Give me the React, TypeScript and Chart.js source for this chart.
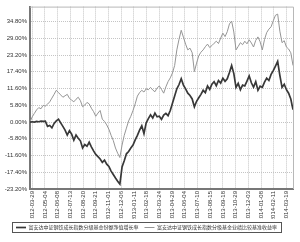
import React, { useEffect, useRef } from "react";
import { Chart, registerables } from "chart.js";

Chart.register(...registerables);

const seriesNames = [
  "富安达中证钢铁成长指数分级基金份额净值增长率",
  "富安达中证钢铁成长指数分级基金业绩比较基准收益率",
];

const tickLabels = [
  "2012-03-29", "2012-05-04", "2012-06-08", "2012-07-13", "2012-08-20",
  "2012-09-21", "2012-11-01", "2012-12-06", "2013-01-11", "2013-02-18",
  "2013-03-24", "2013-04-29", "2013-06-04", "2013-07-10", "2013-08-15",
  "2013-09-18", "2013-10-29", "2013-12-03", "2014-01-08", "2014-02-11",
  "2014-03-19",
];
const xTickStart = 1;
const xTickEvery = 5.8;

const yTickValues = [-23.2, -17.4, -11.6, -5.8, 0, 5.8, 11.6, 17.4, 23.2, 29, 34.8];
const yMin = -23.2;
const yMax = 40;

const fundValues = [
  0, 0.1, 0, 0.2, 0.1, 0.3, 0.2, 0.3, -1.5, -1.2, -2,
  -0.5, 0.4, 1, -0.3, -1.5, -2.8, -4.5, -3, -4.2, -6.3,
  -4.5, -5.6, -6.5, -9, -7.8, -8.4, -7, -8.6, -10, -11.2,
  -12, -12.8, -14, -13.2, -14.6, -15.4, -17, -18.2, -19.4, -20.5,
  -21.5, -15.6, -13.4, -11, -10.2, -9, -8, -6.2, -4.6, -2.8,
  -1.3, -4, -0.3, 1.2, 2.5, 1.4, 3.1, 1.8, 2, 0.9,
  2.4, 3, 2.2, 4, 6.5, 9, 11.5, 13, 15, 12.8,
  11.5, 10, 9.2, 8, 5.3, 7.2, 8.4, 9.6, 11, 10.2,
  12.5, 11.3, 13.1, 14, 12.6, 14.4, 13.5, 15.2, 14.1, 15,
  17.2, 19.6, 16.8, 12, 13.4, 11.2, 12.8, 12.5, 14.2, 16,
  13.6, 12.1, 14, 11, 12.4, 12, 13.8, 15.2, 14.4, 16.5,
  17.8, 19.4, 21, 16.2, 12, 13.1, 11.2, 10, 8, 4.3,
];

const benchValues = [
  0, 1.8, 3, 4.2, 5, 4.6, 5.8, 5.5, 6.2, 7, 8.3,
  9.6, 11, 10.2, 9.4, 8.6, 9.1, 9.6, 8.2, 7.6, 7,
  7.9, 8.6, 7.4, 5.3, 5.9, 6.8, 6.3, 4.8, 3.6, 2,
  3.1, 4, 1, 0.2, -1, -2.5, -4.6, -6.4, -9, -10.8,
  -12.3, -8, -4.6, -2.1, 0.4, 2, 4, 6.3, 9, 10.2,
  11, 10.4, 11.5, 11.2, 12, 11.1, 10.5, 11.8, 12.5, 11.3,
  10, 12.2, 14, 15.3, 17, 19.6, 25, 28.7, 31.8, 29.4,
  27, 25, 25.6, 24, 17.5, 20.4, 23, 24.2, 25, 26.1,
  27, 25.8, 26.5, 27.3, 28, 27.2, 29.1, 30.8, 29.6, 31.3,
  34, 35, 31.2, 25, 26.2, 27.5, 26.8, 28, 27.1, 28.5,
  27.4, 26, 28.3, 29.5, 27.8, 25, 28.6, 31, 32.2, 33,
  35.1, 37, 37.4, 31.5, 27.5, 28.2, 26, 25.3, 24, 19.6,
];

const frameAndLegendBox = {
  id: "frameAndLegendBox",
  afterDraw(chart: any) {
    const { ctx, chartArea } = chart;
    ctx.save();
    ctx.strokeStyle = "#b8b8b8";
    ctx.lineWidth = 1;
    ctx.beginPath();
    ctx.moveTo(chartArea.left, chartArea.top + 0.5);
    ctx.lineTo(chartArea.right + 0.5, chartArea.top + 0.5);
    ctx.lineTo(chartArea.right + 0.5, chartArea.bottom);
    ctx.stroke();
    const boxes = chart.legend?.legendHitBoxes || [];
    if (boxes.length) {
      let l = Infinity, r = -Infinity, t = Infinity, b = -Infinity;
      boxes.forEach((h: any) => {
        l = Math.min(l, h.left);
        r = Math.max(r, h.left + h.width);
        t = Math.min(t, h.top);
        b = Math.max(b, h.top + h.height);
      });
      ctx.strokeStyle = "#555";
      ctx.strokeRect(Math.round(l - 4) + 0.5, Math.round(t - 3) + 0.5, Math.round(r - l + 8), Math.round(b - t + 5));
    }
    ctx.restore();
  },
};

export default function App() {
  const ref = useRef<HTMLCanvasElement>(null);
  useEffect(() => {
    const xs = fundValues.map((_, i) => i);
    const chart = new Chart(ref.current!, {
      type: "line",
      data: {
        datasets: [
          {
            label: seriesNames[0],
            data: xs.map((x) => ({ x, y: fundValues[x] })),
            borderColor: "#383838",
            backgroundColor: "#383838",
            borderWidth: 1.7,
            pointRadius: 0,
            pointStyle: "line",
            tension: 0,
          },
          {
            label: seriesNames[1],
            data: xs.map((x) => ({ x, y: benchValues[x] })),
            borderColor: "#959595",
            backgroundColor: "#959595",
            borderWidth: 1,
            pointRadius: 0,
            pointStyle: "line",
            tension: 0,
          },
        ],
      },
      options: {
        animation: false,
        responsive: false,
        layout: { padding: { top: 5, right: 7, left: 0, bottom: 2 } },
        plugins: {
          tooltip: { enabled: false },
          legend: {
            position: "bottom",
            labels: {
              font: { family: "'Noto Sans CJK SC'", size: 5 },
              color: "#333",
              usePointStyle: true,
              pointStyleWidth: 10,
              boxHeight: 5,
              padding: 6,
            },
          },
        },
        scales: {
          x: {
            type: "linear",
            min: 0,
            max: fundValues.length - 1,
            afterBuildTicks: (s: any) => {
              s.ticks = tickLabels.map((_, j) => ({ value: xTickStart + j * xTickEvery }));
            },
            afterFit: (s: any) => {
              s.height = 30;
            },
            ticks: {
              autoSkip: false,
              maxRotation: 90,
              minRotation: 90,
              padding: 2,
              color: "#333",
              font: { family: "'Liberation Sans'", size: 6 },
              callback: (_v: any, i: number) => tickLabels[i],
            },
            grid: { color: "#c4c4c4", lineWidth: 1, drawTicks: false },
            border: { color: "#777", width: 2, dash: [1, 1] },
          },
          y: {
            min: yMin,
            max: yMax,
            afterBuildTicks: (s: any) => {
              s.ticks = yTickValues.map((v) => ({ value: v }));
            },
            afterFit: (s: any) => {
              s.width = 30;
            },
            ticks: {
              padding: 3,
              color: "#333",
              font: { family: "'Liberation Sans'", size: 6 },
              callback: (v: any) => Number(v).toFixed(2) + "%",
            },
            grid: { color: "#c4c4c4", lineWidth: 1, drawTicks: false },
            border: { color: "#777", width: 2, dash: [1, 1] },
          },
        },
      },
      plugins: [frameAndLegendBox],
    });
    return () => chart.destroy();
  }, []);
  return (
    <div style={{ position: "absolute", left: 0, top: 0, width: 300, height: 242, background: "#fff" }}>
      <canvas ref={ref} width={300} height={242} style={{ width: 300, height: 242 }} />
    </div>
  );
}
